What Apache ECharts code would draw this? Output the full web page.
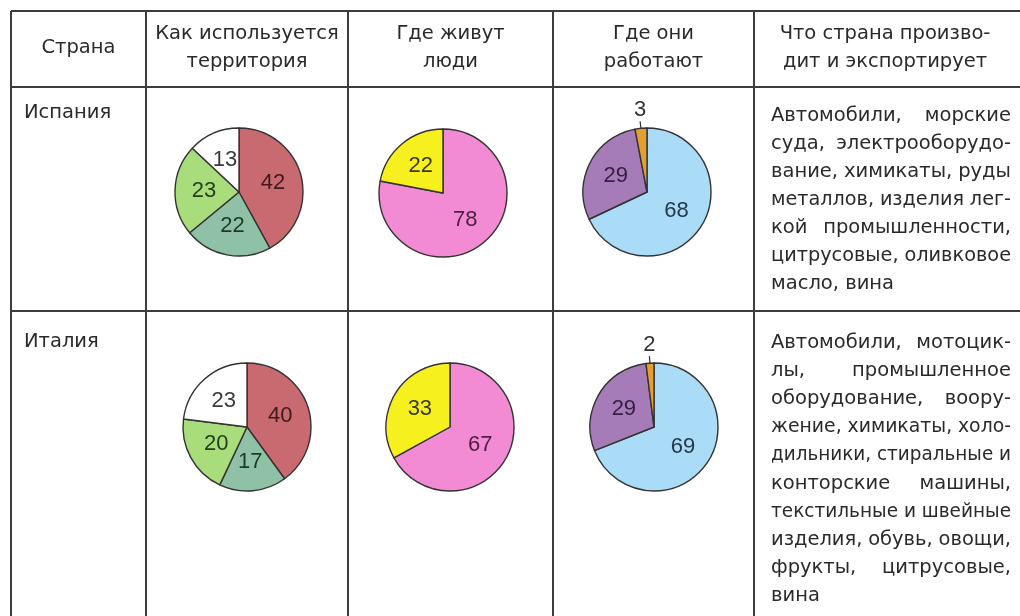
<!DOCTYPE html>
<html>
<head>
<meta charset="utf-8">
<script src="https://cdn.jsdelivr.net/npm/echarts@6/dist/echarts.min.js"></script>
<style>
  html, body { margin: 0; padding: 0; background: #ffffff; }
  #chart { width: 1020px; height: 616px; }
</style>
</head>
<body>
<div id="chart"></div>
<script>
// Table content
const countries = ['Испания', 'Италия'];
const headerLines = [
  ['Страна'],
  ['Как используется', 'территория'],
  ['Где живут', 'люди'],
  ['Где они', 'работают'],
  ['Что страна произво-', 'дит и экспортирует']
];

// Shares, %
const landSpain = [42, 22, 23, 13];
const landItaly = [40, 17, 20, 23];
const peopleSpain = [78, 22];
const peopleItaly = [67, 33];
const workSpain = [68, 29, 3];
const workItaly = [69, 29, 2];

const exportsSpain = [
  'Автомобили, морские',
  'суда, электрооборудо-',
  'вание, химикаты, руды',
  'металлов, изделия лег-',
  'кой промышленности,',
  'цитрусовые, оливковое',
  'масло, вина'
];
const exportsItaly = [
  'Автомобили, мотоцик-',
  'лы, промышленное',
  'оборудование, воору-',
  'жение, химикаты, холо-',
  'дильники, стиральные и',
  'конторские машины,',
  'текстильные и швейные',
  'изделия, обувь, овощи,',
  'фрукты, цитрусовые,',
  'вина'
];

// Slice colours
const landColors = ['#c96a71', '#8fc1a7', '#a9dc7b', '#ffffff'];
const landLabelColors = ['#3e1a1e', '#1c3a2a', '#22401a', '#3a3a3a'];
const peopleColors = ['#f28bd3', '#f5f01e'];
const peopleLabelColors = ['#4a1f42', '#3a3a10'];
const workColors = ['#aadbf7', '#a57bb8', '#e3a02f'];
const workLabelColors = ['#24384a', '#341f40', '#333333'];

// Grid geometry
const colX = [11, 146, 348, 553, 754, 1030];
const rowY = [11, 87, 311, 640];
const lineColor = '#3c3c3c';
const textColor = '#2a2a2a';
const fontFamily = 'DejaVu Sans';
const fontSize = 19.5;
const textFont = fontSize + 'px "' + fontFamily + '"';

const chart = echarts.init(document.getElementById('chart'), null, { renderer: 'canvas' });

const graphics = [];
function addLine(x1, y1, x2, y2) {
  graphics.push({
    type: 'line', silent: true,
    shape: { x1, y1, x2, y2 },
    style: { stroke: lineColor, lineWidth: 2 }
  });
}
function addText(x, y, text, align, sx) {
  graphics.push({
    type: 'text', silent: true, x, y, scaleX: sx || 1,
    style: { text, fontSize, fontFamily, fill: textColor, align: align || 'left', verticalAlign: 'middle' }
  });
}

// grid lines
addLine(colX[0], rowY[0], 1020, rowY[0]);
addLine(colX[0], rowY[1], 1020, rowY[1]);
addLine(colX[0], rowY[2], 1020, rowY[2]);
for (let i = 0; i < 5; i++) addLine(colX[i], rowY[0], colX[i], 616);

// headers
headerLines.forEach((lines, i) => {
  const cx = i === 4 ? 885 : (colX[i] + colX[i + 1]) / 2;
  if (lines.length === 1) addText(cx, 48, lines[0], 'center');
  else lines.forEach((l, j) => addText(cx, 34 + j * 28, l, 'center'));
});

// country names
addText(24, 113, countries[0]);
addText(24, 342, countries[1]);

// justified paragraphs; tight lines are condensed slightly so the gaps never vanish
const measureCtx = document.createElement('canvas').getContext('2d');
measureCtx.font = textFont;
const minGap = fontSize * 0.3;
function justify(lines, x0, width, y0, lh) {
  lines.forEach((line, i) => {
    const y = y0 + i * lh;
    const words = line.split(' ');
    if (i === lines.length - 1 || words.length === 1) { addText(x0, y, line); return; }
    let widths = words.map(w => measureCtx.measureText(w).width);
    const total = widths.reduce((a, b) => a + b, 0);
    const gaps = words.length - 1;
    let sx = 1;
    if (total + minGap * gaps > width) {
      sx = (width - minGap * gaps) / total;
      widths = widths.map(w => w * sx);
    }
    const gap = (width - total * sx) / gaps;
    let x = x0;
    words.forEach((w, j) => { addText(x, y, w, 'left', sx); x += widths[j] + gap; });
  });
}
justify(exportsSpain, 771, 240, 116, 28);
justify(exportsItaly, 771, 240, 343, 28.1);

function pieSeries(values, colors, labelColors, center) {
  return {
    type: 'pie',
    center,
    radius: 64,
    startAngle: 90,
    clockwise: true,
    silent: true,
    avoidLabelOverlap: false,
    itemStyle: { borderColor: '#333333', borderWidth: 1.4 },
    label: {
      show: true, position: 'inside', formatter: '{c}',
      fontFamily: 'Liberation Sans', fontSize: 22
    },
    labelLine: { show: false },
    labelLayout: function (p) {
      if (p.labelLinePoints && p.labelLinePoints.length) {
        const pts = p.labelLinePoints;
        const end = pts[pts.length - 1];
        return { x: end[0], y: end[1] + 2, align: 'center', verticalAlign: 'bottom' };
      }
    },
    data: values.map((v, i) => {
      const item = {
        value: v,
        itemStyle: { color: colors[i] },
        label: { color: labelColors[i] }
      };
      if (v < 5) {
        item.label.position = 'outside';
        item.labelLine = { show: true, length: 9, length2: 0, lineStyle: { color: '#333', width: 1.2 } };
      }
      return item;
    })
  };
}

chart.setOption({
  backgroundColor: '#ffffff',
  animation: false,
  graphic: { elements: graphics },
  series: [
    pieSeries(landSpain, landColors, landLabelColors, [239, 192]),
    pieSeries(peopleSpain, peopleColors, peopleLabelColors, [443, 193]),
    pieSeries(workSpain, workColors, workLabelColors, [647, 192]),
    pieSeries(landItaly, landColors, landLabelColors, [247, 427]),
    pieSeries(peopleItaly, peopleColors, peopleLabelColors, [450, 427]),
    pieSeries(workItaly, workColors, workLabelColors, [654, 427])
  ]
});
</script>
</body>
</html>
